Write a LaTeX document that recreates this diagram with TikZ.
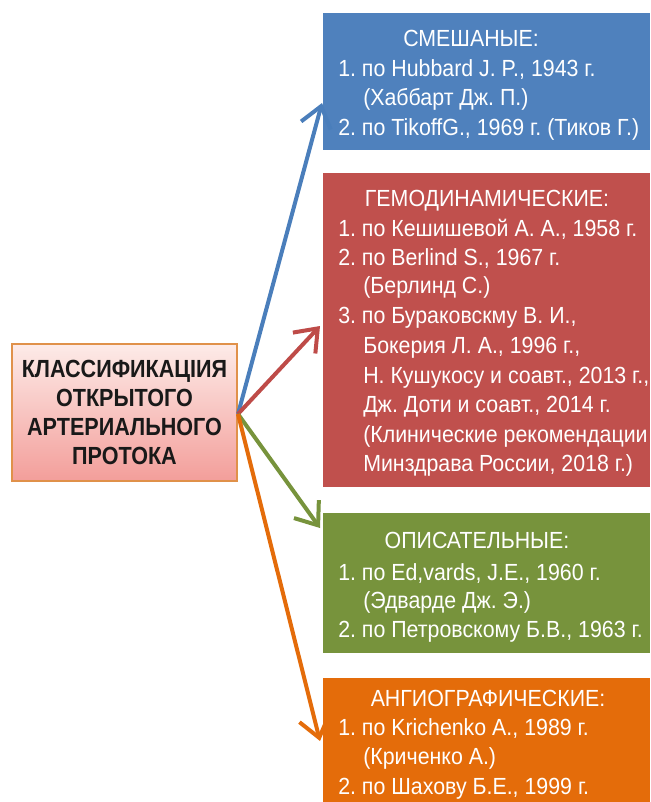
\documentclass[tikz,border=0pt]{standalone}
\usepackage{fontspec}
\setmainfont{Liberation Sans}[FakeStretch=0.915]
\newfontfamily\titlefont{Liberation Sans}[FakeStretch=0.87]
\usetikzlibrary{arrows.meta}
\frenchspacing
\definecolor{cblue}{HTML}{4F81BD}
\definecolor{cred}{HTML}{C0504D}
\definecolor{cgreen}{HTML}{77933C}
\definecolor{corange}{HTML}{E46C0A}
\definecolor{ablue}{HTML}{4A7EBB}
\definecolor{ared}{HTML}{BE4B48}
\definecolor{pinktop}{HTML}{FDEBE8}
\definecolor{pinkbot}{HTML}{F39E9A}
\definecolor{pinkedge}{HTML}{E0914A}
\begin{document}
\frenchspacing
\begin{tikzpicture}[x=0.75pt,y=-0.75pt,
  catbox/.style={rectangle, anchor=north west, inner sep=0pt, draw=none},
  itm/.style={anchor=base west, text=white, inner sep=0pt, font=\fontsize{17.5}{20}\selectfont},
  hdr/.style={anchor=base, text=white, inner sep=0pt, font=\fontsize{17.5}{20}\selectfont},
  arr/.style={line width=3pt, -{Straight Barb[length=15pt,width=23pt,line width=3pt]}}
]
\useasboundingbox (0,0) rectangle (650,802);

% category boxes
\node[catbox, fill=cblue, minimum width=245.25pt, minimum height=102.75pt] (bluebox) at (323,13) {};
\node[catbox, fill=cred, minimum width=245.25pt, minimum height=235.5pt] (redbox) at (323,173) {};
\node[catbox, fill=cgreen, minimum width=245.25pt, minimum height=105pt] (greenbox) at (323,513) {};
\node[catbox, fill=corange, minimum width=245.25pt, minimum height=93pt] (orangebox) at (323,678) {};

% central box
\node[draw=pinkedge, line width=1.1pt, top color=pinktop, bottom color=pinkbot,
      minimum width=168.75pt, minimum height=102.75pt, align=center, text=black!90,
      font=\titlefont\bfseries\fontsize{18.6}{21.75}\selectfont, inner sep=0pt] (cls) at (124.5,412.5)
  {КЛАССИФИКАЦIИЯ\\ОТКРЫТОГО\\АРТЕРИАЛЬНОГО\\ПРОТОКА};

% blue texts
\node[hdr] (b0) at (471,47) {СМЕШАНЫЕ:};
\node[itm] (b1) at (338,77) {1. по Hubbard J. P., 1943 г.};
\node[itm] (b2) at (363,106) {(Хаббарт Дж. П.)};
\node[itm] (b3) at (338,136) {2. по TikoffG., 1969 г. (Тиков Г.)};

% red texts
\node[hdr] (r0) at (487,207) {ГЕМОДИНАМИЧЕСКИЕ:};
\node[itm] (r1) at (338,237) {1. по Кешишевой А. А., 1958 г.};
\node[itm] (r2) at (338,265) {2. по Berlind S., 1967 г.};
\node[itm] (r3) at (363,293) {(Берлинд С.)};
\node[itm] (r4) at (338,323) {3. по Бураковскму В. И.,};
\node[itm] (r5) at (363,353) {Бокерия Л. А., 1996 г.,};
\node[itm] (r6) at (363,383) {Н. Кушукосу и соавт., 2013 г.,};
\node[itm] (r7) at (363,412) {Дж. Доти и соавт., 2014 г.};
\node[itm] (r8) at (363,442) {(Клинические рекомендации};
\node[itm] (r9) at (363,471) {Минздрава России, 2018 г.)};

% green texts
\node[hdr] (g0) at (477,548) {ОПИСАТЕЛЬНЫЕ:};
\node[itm] (g1) at (338,580) {1. по Ed,vards, J.E., 1960 г.};
\node[itm] (g2) at (363,608) {(Эдварде Дж. Э.)};
\node[itm] (g3) at (338,637) {2. по Петровскому Б.В., 1963 г.};

% orange texts
\node[hdr] (o0) at (488,706) {АНГИОГРАФИЧЕСКИЕ:};
\node[itm] (o1) at (338,735) {1. по Krichenko А., 1989 г.};
\node[itm] (o2) at (363,764) {(Криченко А.)};
\node[itm] (o3) at (338,794) {2. по Шахову Б.Е., 1999 г.};

% arrow targets
\coordinate (src) at (238,414);
\coordinate (tb) at (322,103);
\coordinate (tr) at (320,326);
\coordinate (tg) at (320,528);
\coordinate (to) at (320,741);

\draw[arr, ablue] (src) -- (tb);
\draw[arr, ared] (src) -- (tr);
\draw[arr, cgreen] (src) -- (tg);
\draw[arr, corange] (src) -- (to);
\end{tikzpicture}
\end{document}
